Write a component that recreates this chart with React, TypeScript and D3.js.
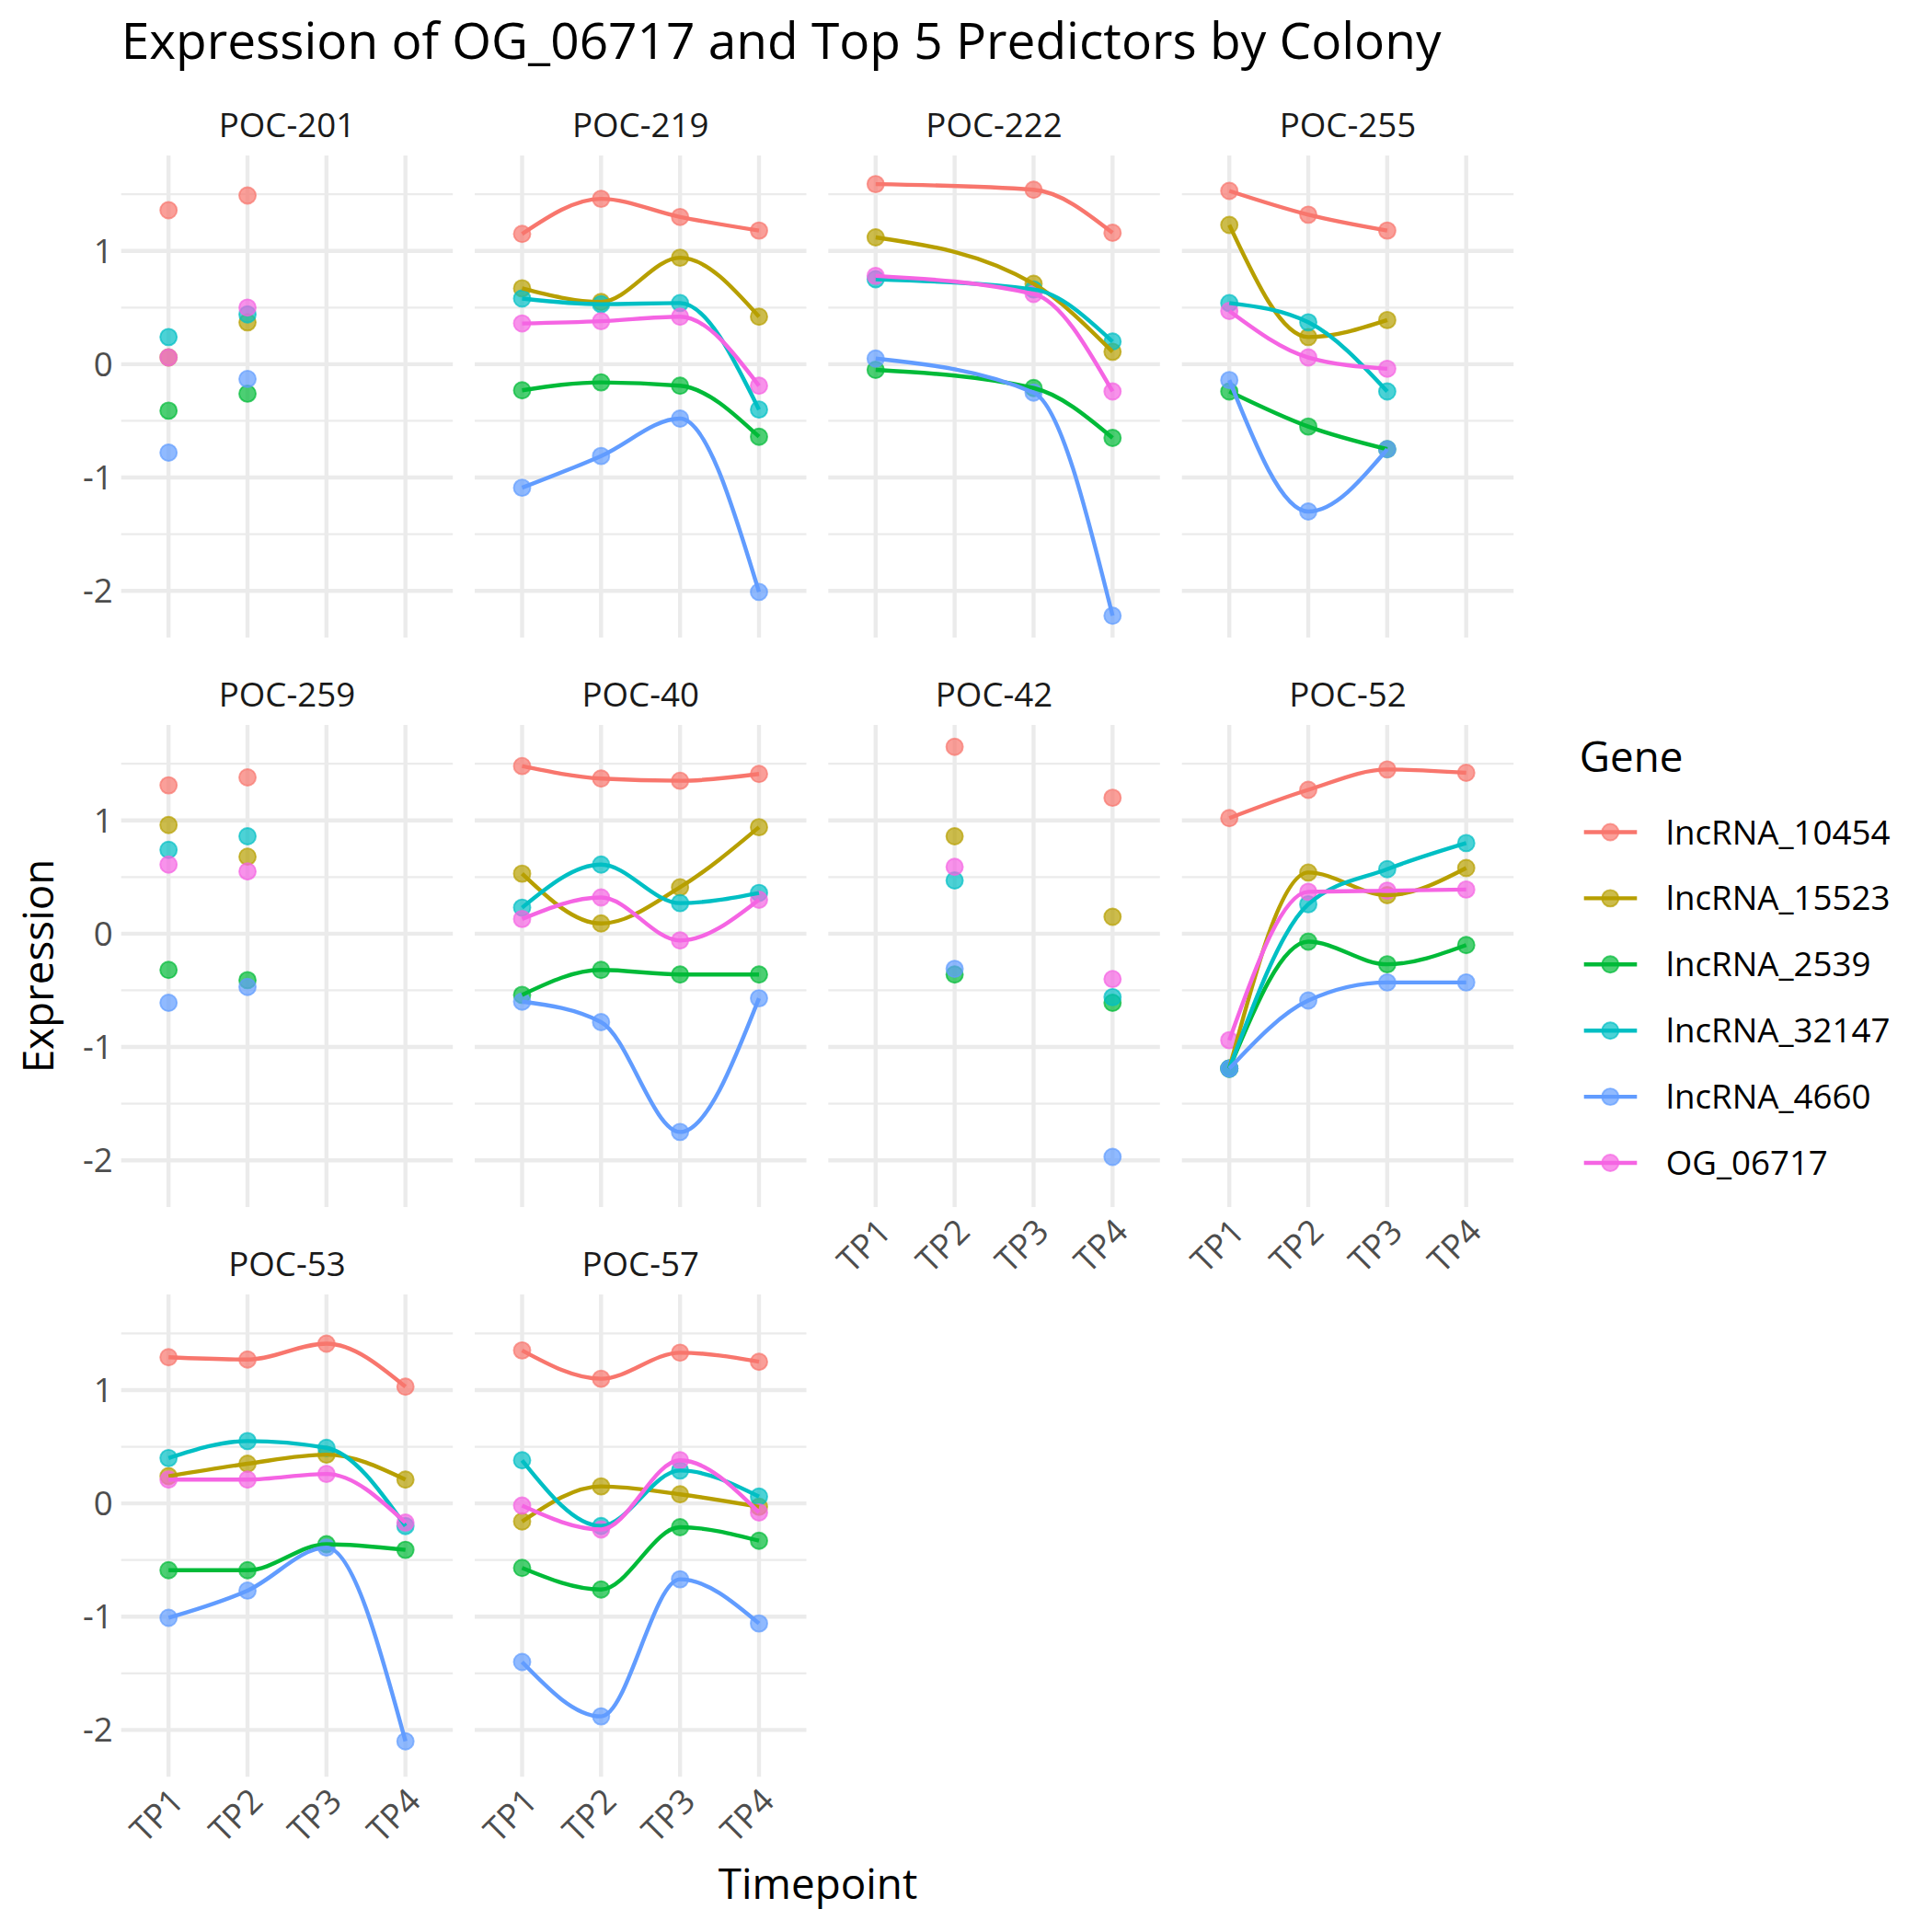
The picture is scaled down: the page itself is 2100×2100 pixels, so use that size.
import React from 'react';
import * as d3 from 'd3';

const timepoints = ['TP1', 'TP2', 'TP3', 'TP4'];
const genes = ['lncRNA_10454', 'lncRNA_15523', 'lncRNA_2539', 'lncRNA_32147', 'lncRNA_4660', 'OG_06717'];
const geneColors = ['#F8766D', '#B79F00', '#00BA38', '#00BFC4', '#619CFF', '#F564E3'];
const colonies = ['POC-201', 'POC-219', 'POC-222', 'POC-255', 'POC-259', 'POC-40', 'POC-42', 'POC-52', 'POC-53', 'POC-57'];
const yTicks = [-2, -1, 0, 1];
const yMinorTicks = [-1.5, -0.5, 0.5, 1.5];

type V = number | null;
// rows follow the genes order, columns follow timepoints
const POC_201: V[][] = [
  [1.36, 1.49, null, null],
  [0.06, 0.37, null, null],
  [-0.41, -0.26, null, null],
  [0.24, 0.44, null, null],
  [-0.78, -0.13, null, null],
  [0.06, 0.50, null, null],
];
const POC_219: V[][] = [
  [1.15, 1.46, 1.30, 1.18],
  [0.67, 0.55, 0.94, 0.42],
  [-0.23, -0.16, -0.19, -0.64],
  [0.58, 0.53, 0.54, -0.40],
  [-1.09, -0.81, -0.48, -2.01],
  [0.36, 0.38, 0.42, -0.19],
];
const POC_222: V[][] = [
  [1.59, null, 1.54, 1.16],
  [1.12, null, 0.71, 0.11],
  [-0.05, null, -0.21, -0.65],
  [0.75, null, 0.66, 0.20],
  [0.05, null, -0.25, -2.22],
  [0.78, null, 0.62, -0.24],
];
const POC_255: V[][] = [
  [1.53, 1.32, 1.18, null],
  [1.23, 0.24, 0.39, null],
  [-0.24, -0.55, -0.75, null],
  [0.54, 0.37, -0.24, null],
  [-0.14, -1.30, -0.75, null],
  [0.47, 0.06, -0.04, null],
];
const POC_259: V[][] = [
  [1.31, 1.38, null, null],
  [0.96, 0.68, null, null],
  [-0.32, -0.41, null, null],
  [0.74, 0.86, null, null],
  [-0.61, -0.47, null, null],
  [0.61, 0.55, null, null],
];
const POC_40: V[][] = [
  [1.48, 1.37, 1.35, 1.41],
  [0.53, 0.09, 0.41, 0.94],
  [-0.54, -0.32, -0.36, -0.36],
  [0.23, 0.61, 0.27, 0.36],
  [-0.60, -0.78, -1.75, -0.57],
  [0.13, 0.32, -0.06, 0.30],
];
const POC_42: V[][] = [
  [null, 1.65, null, 1.20],
  [null, 0.86, null, 0.15],
  [null, -0.36, null, -0.61],
  [null, 0.47, null, -0.56],
  [null, -0.31, null, -1.97],
  [null, 0.59, null, -0.40],
];
const POC_52: V[][] = [
  [1.02, 1.27, 1.45, 1.42],
  [-1.19, 0.54, 0.34, 0.58],
  [-1.19, -0.07, -0.27, -0.10],
  [-1.19, 0.26, 0.57, 0.80],
  [-1.19, -0.59, -0.43, -0.43],
  [-0.94, 0.37, 0.38, 0.39],
];
const POC_53: V[][] = [
  [1.29, 1.27, 1.41, 1.03],
  [0.24, 0.35, 0.43, 0.21],
  [-0.59, -0.59, -0.36, -0.41],
  [0.40, 0.55, 0.49, -0.20],
  [-1.01, -0.77, -0.39, -2.10],
  [0.21, 0.21, 0.26, -0.17],
];
const POC_57: V[][] = [
  [1.35, 1.10, 1.33, 1.25],
  [-0.16, 0.15, 0.08, -0.03],
  [-0.57, -0.76, -0.21, -0.33],
  [0.38, -0.20, 0.29, 0.06],
  [-1.40, -1.88, -0.67, -1.06],
  [-0.02, -0.23, 0.38, -0.08],
];
const colonyValues: V[][][] = [POC_201, POC_219, POC_222, POC_255, POC_259, POC_40, POC_42, POC_52, POC_53, POC_57];

const FONT = '"Open Sans", "Noto Sans", sans-serif';

export default function App() {
  const W = 2100, H = 2100;
  const colX0 = [131.7, 516, 900.3, 1284.7];
  const rowY0 = [168.9, 787.9, 1407.1];
  const pw = 360.5, ph = 524.2;
  const nCol = 4;

  const all = colonyValues.flatMap(c => c.flat().filter((v): v is number => v != null));
  const mn = d3.min(all) as number, mx = d3.max(all) as number;
  const pad = (mx - mn) * 0.05;

  const line = d3.line<[number, number]>().x(d => d[0]).y(d => d[1]).curve(d3.curveMonotoneX);

  const panels = colonies.map((name, i) => {
    const c = i % nCol, r = Math.floor(i / nCol);
    const x0 = colX0[c], y0 = rowY0[r];
    const x = d3.scalePoint<string>().domain(timepoints).range([x0, x0 + pw]).padding(0.6);
    const y = d3.scaleLinear().domain([mn - pad, mx + pad]).range([y0 + ph, y0]);
    const vals = colonyValues[i];
    const lastInCol = i + nCol >= colonies.length;
    return (
      <g key={name}>
        {yMinorTicks.map(t => (
          <line key={'m' + t} x1={x0} x2={x0 + pw} y1={y(t)} y2={y(t)} stroke="#EBEBEB" strokeWidth={2.2} />
        ))}
        {yTicks.map(t => (
          <line key={'M' + t} x1={x0} x2={x0 + pw} y1={y(t)} y2={y(t)} stroke="#EBEBEB" strokeWidth={4.4} />
        ))}
        {timepoints.map(tp => (
          <line key={tp} x1={x(tp)} x2={x(tp)} y1={y0} y2={y0 + ph} stroke="#EBEBEB" strokeWidth={4.4} />
        ))}
        <text x={x0 + pw / 2} y={y0 - 20} textAnchor="middle" fontFamily={FONT} fontSize={36.7} fill="#1A1A1A">{name}</text>
        {c === 0 && yTicks.map(t => (
          <text key={'yl' + t} x={x0 - 9} y={y(t) + 13} textAnchor="end" fontFamily={FONT} fontSize={36.7} fill="#4D4D4D">{t}</text>
        ))}
        {lastInCol && timepoints.map(tp => (
          <text key={'xl' + tp} transform={`translate(${x(tp)},${y0 + ph + 10}) rotate(-45)`} dy="0.72em" textAnchor="end" fontFamily={FONT} fontSize={36.7} fill="#4D4D4D">{tp}</text>
        ))}
        {genes.map((g, gi) => (
          <g key={'p' + g}>
            {vals[gi].map((v, ti) => v == null ? null : (
              <circle key={ti} cx={x(timepoints[ti])} cy={y(v)} r={9} fill={geneColors[gi]} fillOpacity={0.7} stroke={geneColors[gi]} strokeOpacity={0.7} strokeWidth={1.9} />
            ))}
          </g>
        ))}
        {genes.map((g, gi) => {
          const pts: [number, number][] = [];
          vals[gi].forEach((v, ti) => { if (v != null) pts.push([x(timepoints[ti]) as number, y(v)]); });
          if (pts.length < 3) return null;
          return <path key={'l' + g} d={line(pts) || ''} fill="none" stroke={geneColors[gi]} strokeWidth={4.4} strokeLinecap="butt" />;
        })}
      </g>
    );
  });

  const legX = 1716.7, legY0 = 904.5, legStep = 71.9;

  return (
    <svg width={W} height={H} style={{ position: 'absolute', left: 0, top: 0, background: '#fff' }} xmlns="http://www.w3.org/2000/svg">
      <rect x={0} y={0} width={W} height={H} fill="#fff" />
      <text x={131.7} y={64} fontFamily={FONT} fontSize={55} fill="#000">Expression of OG_06717 and Top 5 Predictors by Colony</text>
      {panels}
      <text transform={`translate(58,1050) rotate(-90)`} textAnchor="middle" fontFamily={FONT} fontSize={45.8} fill="#000">Expression</text>
      <text x={889} y={2064} textAnchor="middle" fontFamily={FONT} fontSize={45.8} fill="#000">Timepoint</text>
      <text x={legX} y={839} fontFamily={FONT} fontSize={45.8} fill="#000">Gene</text>
      {genes.map((g, gi) => {
        const cy = legY0 + gi * legStep;
        return (
          <g key={'leg' + g}>
            <circle cx={1750.3} cy={cy} r={9} fill={geneColors[gi]} fillOpacity={0.7} stroke={geneColors[gi]} strokeOpacity={0.7} strokeWidth={1.9} />
            <line x1={1721.7} x2={1779.3} y1={cy} y2={cy} stroke={geneColors[gi]} strokeWidth={4.4} />
            <text x={1810.7} y={cy + 13} fontFamily={FONT} fontSize={36.7} fill="#000">{g}</text>
          </g>
        );
      })}
    </svg>
  );
}
